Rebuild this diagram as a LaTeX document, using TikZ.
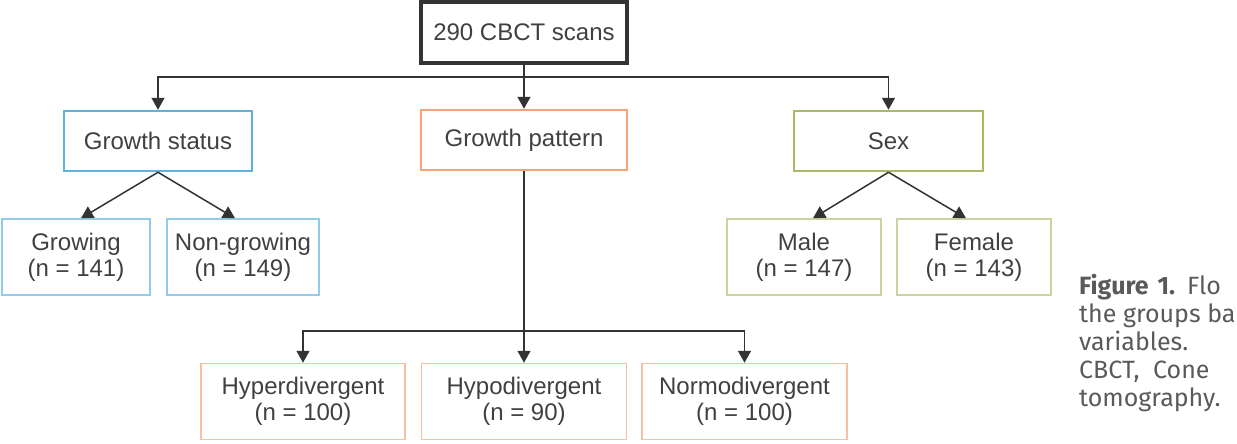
\documentclass[tikz,border=0pt]{standalone}
\usepackage{fontspec}
\setmainfont{Liberation Sans}
\newfontfamily\capfont{Fira Sans}
\usetikzlibrary{arrows.meta}

\definecolor{linegray}{HTML}{333333}
\definecolor{txtgray}{HTML}{404040}
\definecolor{capgray}{HTML}{5A5A5A}
\definecolor{statusblue}{HTML}{5DB3DE}
\definecolor{statusleaf}{HTML}{93CCEA}
\definecolor{patternorange}{HTML}{F5A27A}
\definecolor{patternleaf}{HTML}{F7C0A2}
\definecolor{sexgreen}{HTML}{A8BC66}
\definecolor{sexleaf}{HTML}{C9D59E}

\begin{document}
\begin{tikzpicture}[x=1pt, y=-1pt,
  font=\fontsize{24}{26}\selectfont, text=txtgray,
  box/.style={draw, inner sep=0pt, align=center},
  topbox/.style={box, draw=linegray, line width=3.5pt, minimum width=206pt, minimum height=61pt},
  catbox/.style={box, line width=2.5pt, minimum height=60pt},
  leafbox/.style={box, line width=1.5pt, minimum height=76pt},
  arr/.style={draw=linegray, line width=1.5pt, -{Triangle[width=13pt,length=12pt]}},
  caption/.style={text=capgray, font=\capfont\fontsize{25}{28}\selectfont, align=left, inner sep=0pt}]
  \useasboundingbox (0,0) rectangle (1237,444);
  % top
  \node[topbox] (scans) at (524,32.5) {290 CBCT scans};
  % categories
  \node[catbox, draw=statusblue, minimum width=188pt] (status) at (158,141) {Growth status};
  \node[catbox, draw=patternorange, minimum width=206pt] (pattern) at (524,140) {Growth pattern};
  \node[catbox, draw=sexgreen, minimum width=189pt] (sex) at (888.5,141) {Sex};
  % leaves
  \node[leafbox, draw=statusleaf, minimum width=148pt] (grow) at (76,257) {Growing\\(n = 141)};
  \node[leafbox, draw=statusleaf, minimum width=152pt] (nongrow) at (243,257) {Non-growing\\(n = 149)};
  \node[leafbox, draw=sexleaf, minimum width=154pt] (male) at (804,257) {Male\\(n = 147)};
  \node[leafbox, draw=sexleaf, minimum width=154pt] (female) at (974,257) {Female\\(n = 143)};
  \node[leafbox, draw=patternleaf, minimum width=204pt] (hyper) at (303,401.5) {Hyperdivergent\\(n = 100)};
  \node[leafbox, draw=patternleaf, minimum width=205pt] (hypo) at (524,401.5) {Hypodivergent\\(n = 90)};
  \node[leafbox, draw=patternleaf, minimum width=205pt] (normo) at (744.5,401.5) {Normodivergent\\(n = 100)};
  % connectors
  \coordinate (split) at (524,77);
  \draw[arr] (scans.south) -- (pattern.north);
  \draw[arr] (split) -| (status.north);
  \draw[arr] (split) -| (sex.north);
  \draw[arr] (status.south) -- ([xshift=5pt]grow.north);
  \draw[arr] (status.south) -- ([xshift=-8pt]nongrow.north);
  \draw[arr] (sex.south) -- ([xshift=9pt]male.north);
  \draw[arr] (sex.south) -- ([xshift=-8pt]female.north);
  \coordinate (split2) at (524,331);
  \draw[arr] (pattern.south) -- (hypo.north);
  \draw[arr] (split2) -| (hyper.north);
  \draw[arr] (split2) -| (normo.north);
  % caption, cut at the right edge
  \node[caption, anchor=north west] (cap) at (1079,274)
    {\textbf{Figure\hspace{9pt}1.}\hspace{12pt}Flo\\the groups ba\\variables.\\CBCT,\hspace{7pt} Cone\\tomography.};
\end{tikzpicture}
\end{document}
